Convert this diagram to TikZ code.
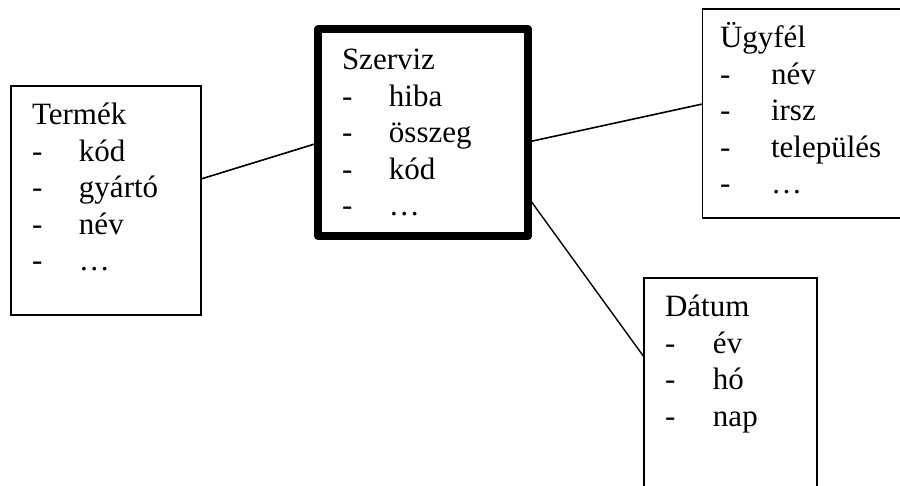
\documentclass[tikz,border=0pt]{standalone}
\usepackage{fontspec}
\setmainfont{Liberation Serif}
\newcommand{\tetel}[1]{\makebox[47pt][l]{-}#1}

\begin{document}
\begin{tikzpicture}[x=1pt, y=-1pt, thick, outer sep=0pt,
	entity/.style={draw, line width=1.6pt, anchor=north west, inner sep=0pt},
	fact/.style={entity, line width=8pt, line join=round},
	attrs/.style={anchor=base west, inner sep=0pt, align=left, font=\fontsize{31}{36.5}\selectfont}]
	\clip (0,0) rectangle (900,486);
	% boxes
	\node[entity, minimum width=190pt, minimum height=229pt] (termek) at (11,86) {};
	\node[fact, minimum width=210pt, minimum height=207pt] (szerviz) at (318,29) {};
	\node[entity, minimum width=210pt, minimum height=209pt] (ugyfel) at (702.5,9) {};
	\node[entity, minimum width=173pt, minimum height=230pt] (datum) at (644,278) {};
	% texts (placed at the baseline of the last line)
	\node[attrs] (termek text) at (32,271) {Termék\\\tetel{kód}\\\tetel{gyártó}\\\tetel{név}\\\tetel{…}};
	\node[attrs] (szerviz text) at (342,216) {Szerviz\\\tetel{hiba}\\\tetel{összeg}\\\tetel{kód}\\\tetel{…}};
	\node[attrs] (ugyfel text) at (720,194) {Ügyfél\\\makebox[51pt][l]{-}név\\\makebox[51pt][l]{-}irsz\\\makebox[51pt][l]{-}település\\\makebox[51pt][l]{-}…};
	\node[attrs] (datum text) at (665,426) {Dátum\\\makebox[48pt][l]{-}év\\\makebox[48pt][l]{-}hó\\\makebox[48pt][l]{-}nap};
	% links
	\draw[line width=1.6pt] ([yshift=21.5pt]termek.east) -- ([yshift=-10.5pt]szerviz.west);
	\draw[line width=1.6pt] ([yshift=-9.5pt]szerviz.east) -- ([yshift=9.5pt]ugyfel.west);
	\draw[line width=1.4pt] ([yshift=-64.5pt]szerviz.east) -- ([yshift=36pt]datum.west);
\end{tikzpicture}
\end{document}
